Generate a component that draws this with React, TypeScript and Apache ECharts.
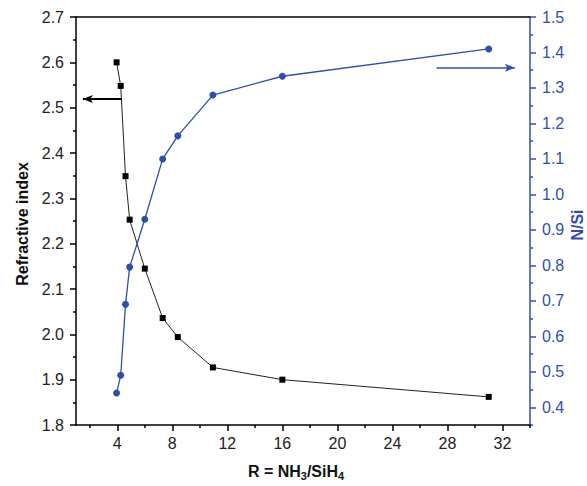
import React, { useEffect, useRef } from "react";
import * as echarts from "echarts";

// R = NH3/SiH4 ratios of the samples
const rValues = [3.95, 4.25, 4.6, 4.9, 6, 7.3, 8.4, 10.95, 16, 31];
// Refractive index (left axis)
const refractiveIndex = [2.6, 2.548, 2.349, 2.253, 2.145, 2.036, 1.994, 1.927, 1.9, 1.862];
// N/Si ratio (right axis)
const nSiRatio = [0.44, 0.49, 0.69, 0.795, 0.93, 1.1, 1.165, 1.28, 1.333, 1.41];

// Tick values
const xMajorTicks = [4, 8, 12, 16, 20, 24, 28, 32];
const xMinorTicks = [2, 6, 10, 14, 18, 22, 26, 30, 34];
const nsiMajorTicks = [0.4, 0.5, 0.6, 0.7, 0.8, 0.9, 1.0, 1.1, 1.2, 1.3, 1.4, 1.5];
const nsiMinorTicks = [0.35, 0.45, 0.55, 0.65, 0.75, 0.85, 0.95, 1.05, 1.15, 1.25, 1.35, 1.45];

// Annotation arrows (data coordinates)
const refArrow = [[4.32, 2.519], [1.5, 2.519]];
const nsiArrow = [[27.2, 1.357], [32.9, 1.357]];

const BLUE = "#2f4faa";
const FONT = "'Liberation Sans', Arial, Helvetica, sans-serif";

export default function App() {
  const ref = useRef<HTMLDivElement>(null);

  useEffect(() => {
    if (!ref.current) return;
    const chart = echarts.init(ref.current, undefined, { renderer: "svg" });
    const fmt = (v: number) => v.toFixed(1);
    const blackLine = { color: "#000", width: 1.5 };
    const blueLine = { color: BLUE, width: 1.5 };

    chart.setOption({
      animation: false,
      backgroundColor: "#fff",
      grid: { left: 76, right: 57, top: 17, bottom: 61 },
      xAxis: [
        {
          type: "value",
          position: "bottom",
          min: 1,
          max: 34,
          axisLine: { onZero: false, lineStyle: blackLine },
          axisTick: { customValues: xMajorTicks, length: 6, lineStyle: blackLine },
          axisLabel: {
            customValues: xMajorTicks,
            margin: 10,
            fontSize: 16,
            color: "#222",
            fontFamily: FONT,
          },
          splitLine: { show: false },
        },
        {
          type: "value",
          position: "bottom",
          min: 1,
          max: 34,
          axisLine: { show: false, onZero: false },
          axisTick: { customValues: xMinorTicks, length: 3, lineStyle: blackLine },
          axisLabel: { show: false },
          splitLine: { show: false },
        },
        {
          type: "value",
          position: "top",
          min: 1,
          max: 34,
          axisLine: { onZero: false, lineStyle: blackLine },
          axisTick: { show: false },
          axisLabel: { show: false },
          splitLine: { show: false },
        },
      ],
      yAxis: [
        {
          type: "value",
          position: "left",
          min: 1.8,
          max: 2.7,
          interval: 0.1,
          axisLine: { show: true, onZero: false, lineStyle: blackLine },
          axisTick: { show: true, length: 6, lineStyle: blackLine },
          minorTick: { show: true, splitNumber: 2, length: 3, lineStyle: blackLine },
          axisLabel: {
            formatter: fmt,
            margin: 12,
            fontSize: 16,
            color: "#222",
            fontFamily: FONT,
          },
          splitLine: { show: false },
          minorSplitLine: { show: false },
        },
        {
          type: "value",
          position: "right",
          min: 0.35,
          max: 1.5,
          axisLine: { show: true, onZero: false, lineStyle: blueLine },
          axisTick: { show: true, customValues: nsiMajorTicks, length: 6, lineStyle: blueLine },
          axisLabel: {
            customValues: nsiMajorTicks,
            formatter: fmt,
            margin: 12,
            fontSize: 16,
            color: BLUE,
            fontFamily: FONT,
          },
          splitLine: { show: false },
        },
        {
          type: "value",
          position: "right",
          min: 0.35,
          max: 1.5,
          axisLine: { show: false, onZero: false },
          axisTick: { show: true, customValues: nsiMinorTicks, length: 3, lineStyle: blueLine },
          axisLabel: { show: false },
          splitLine: { show: false },
        },
      ],
      series: [
        {
          name: "Refractive index",
          type: "line",
          xAxisIndex: 0,
          yAxisIndex: 0,
          data: rValues.map((x, i) => [x, refractiveIndex[i]]),
          symbol: "rect",
          symbolSize: 6,
          itemStyle: { color: "#000" },
          lineStyle: { color: "#222", width: 1 },
          markLine: {
            silent: true,
            symbol: ["none", "arrow"],
            symbolSize: [6, 10],
            label: { show: false },
            lineStyle: { color: "#000", width: 2, type: "solid" },
            data: [[{ coord: refArrow[0] }, { coord: refArrow[1] }]],
          },
        },
        {
          name: "N/Si",
          type: "line",
          xAxisIndex: 0,
          yAxisIndex: 1,
          data: rValues.map((x, i) => [x, nSiRatio[i]]),
          symbol: "circle",
          symbolSize: 7,
          itemStyle: { color: BLUE },
          lineStyle: { color: BLUE, width: 1.3 },
          markLine: {
            silent: true,
            symbol: ["none", "arrow"],
            symbolSize: [6, 10],
            label: { show: false },
            lineStyle: { color: BLUE, width: 1.5, type: "solid" },
            data: [[{ coord: nsiArrow[0] }, { coord: nsiArrow[1] }]],
          },
        },
      ],
      graphic: [
        {
          type: "text",
          x: 22,
          y: 224,
          rotation: Math.PI / 2,
          style: {
            text: "Refractive index",
            fill: "#111",
            font: `bold 16px ${FONT}`,
            align: "center",
            verticalAlign: "middle",
          },
        },
        {
          type: "text",
          x: 577,
          y: 225,
          rotation: Math.PI / 2,
          style: {
            text: "N/Si",
            fill: BLUE,
            font: `bold 16px ${FONT}`,
            align: "center",
            verticalAlign: "middle",
          },
        },
        {
          type: "text",
          x: 296,
          y: 471,
          style: {
            text: "{m|R = NH}{s|3}{m|/SiH}{s|4}",
            align: "center",
            verticalAlign: "middle",
            rich: {
              m: { font: `bold 16px ${FONT}`, fill: "#111" },
              s: { font: `bold 11px ${FONT}`, fill: "#111", padding: [10, 0, 0, 0] },
            },
          },
        },
      ],
    });

    return () => chart.dispose();
  }, []);

  return (
    <div
      ref={ref}
      style={{ position: "absolute", left: 0, top: 0, width: 587, height: 486 }}
    />
  );
}
